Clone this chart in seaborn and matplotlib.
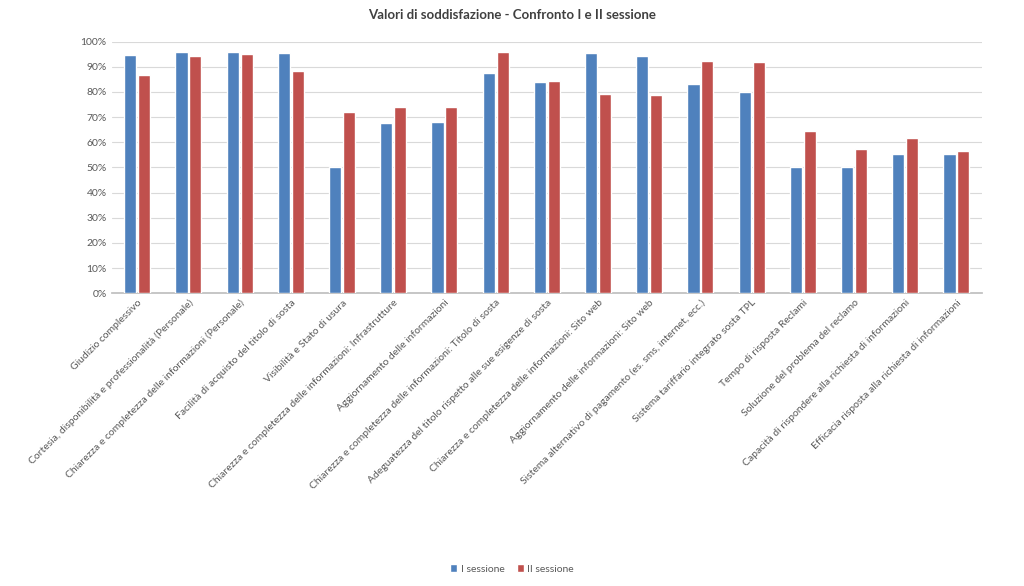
import matplotlib
matplotlib.use("Agg")
import matplotlib.pyplot as plt
import matplotlib.ticker as mtick
import seaborn as sns
import pandas as pd

categories = [
    "Giudizio complessivo",
    "Cortesia, disponibilità e professionalità (Personale)",
    "Chiarezza e completezza delle informazioni (Personale)",
    "Facilità di acquisto del titolo di sosta",
    "Visibilità e Stato di usura",
    "Chiarezza e completezza delle informazioni: Infrastrutture",
    "Aggiornamento delle informazioni",
    "Chiarezza e completezza delle informazioni: Titolo di sosta",
    "Adeguatezza del titolo rispetto alle sue esigenze di sosta",
    "Chiarezza e completezza delle informazioni: Sito web",
    "Aggiornamento delle informazioni: Sito web",
    "Sistema alternativo di pagamento (es. sms, internet, ecc.)",
    "Sistema tariffario integrato sosta TPL",
    "Tempo di risposta Reclami",
    "Soluzione del problema del reclamo",
    "Capacità di rispondere alla richiesta di informazioni",
    "Efficacia risposta alla richiesta di informazioni",
]
sessione_1 = [94.7, 96.0, 96.0, 95.6, 50.0, 67.7, 67.9, 87.5, 84.0,
              95.6, 94.4, 83.2, 80.1, 50.0, 50.0, 55.5, 55.5]
sessione_2 = [86.6, 94.4, 95.1, 88.2, 72.1, 73.9, 74.2, 96.0, 84.4,
              79.1, 78.8, 92.2, 91.9, 64.4, 57.2, 61.6, 56.4]
series_names = ["I sessione", "II sessione"]

df = pd.DataFrame({
    "Categoria": categories * 2,
    "Valore": [v / 100 for v in sessione_1 + sessione_2],
    "Sessione": [series_names[0]] * len(categories) + [series_names[1]] * len(categories),
})

sns.set_theme(style="white")
plt.rcParams["font.family"] = ["Lato", "DejaVu Sans"]
text_col = "#595959"

fig = plt.figure(figsize=(10.24, 5.86), dpi=100)
ax = fig.add_axes([0.109, 0.4995, 0.85, 0.4295])

sns.barplot(data=df, x="Categoria", y="Valore", hue="Sessione",
            palette=["#4F81BD", "#C0504D"], width=0.54, gap=0.13,
            saturation=1, ax=ax, zorder=3)

ax.set_ylim(0, 1.0)
ax.set_xlim(-0.5, len(categories) - 0.5)
ax.yaxis.set_major_locator(mtick.MultipleLocator(0.1))
ax.yaxis.set_major_formatter(mtick.PercentFormatter(1.0, decimals=0))
ax.grid(axis="y", color="#d9d9d9", linewidth=0.8, zorder=0)
ax.set_axisbelow(True)
for s in ["top", "right", "left"]:
    ax.spines[s].set_visible(False)
ax.spines["bottom"].set_color("#bfbfbf")
ax.set_xlabel("")
ax.set_ylabel("")
ax.tick_params(axis="both", length=0, colors=text_col, labelsize=7.5)
ax.set_xticks(range(len(categories)))
ax.set_xticklabels(categories, rotation=45, ha="right", rotation_mode="anchor",
                   fontsize=7.5, color=text_col)

fig.suptitle("Valori di soddisfazione - Confronto I e II sessione",
             y=0.985, fontsize=9.5, fontweight="bold", color="#404040")

handles, labels = ax.get_legend_handles_labels()
ax.legend_.remove()
fig.legend(handles, labels, loc="center", bbox_to_anchor=(0.5, 0.029), ncol=2,
           frameon=False, fontsize=7.5, handlelength=0.7, handleheight=0.7,
           handletextpad=0.3, columnspacing=1.2, labelcolor=text_col)

fig.savefig("out.png", dpi=100)
